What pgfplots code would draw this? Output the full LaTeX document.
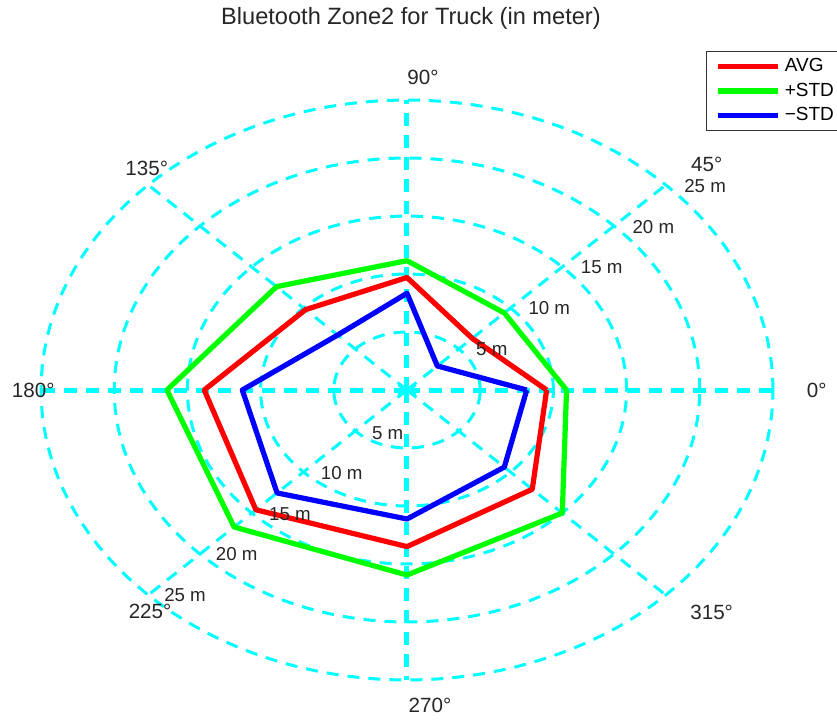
\documentclass[border=0pt]{standalone}
\usepackage{pgfplots}
\pgfplotsset{compat=1.18}
\usepackage{fontspec}
\setmainfont{Liberation Sans}
\definecolor{gcyan}{RGB}{0,255,255}
\definecolor{mred}{RGB}{255,0,0}
\definecolor{mgreen}{RGB}{0,255,0}
\definecolor{mblue}{RGB}{0,0,255}
\tikzset{
  rlab/.style={font=\fontsize{9.35}{11}\selectfont, text=black!85},
  alab/.style={font=\fontsize{10.3}{12}\selectfont, text=black!85},
}
\begin{document}
\begin{tikzpicture}
\path[use as bounding box] (-20.5pt,-19.5pt) rectangle (398pt,340pt);
\begin{axis}[
  width=366pt, height=290pt, scale only axis,
  xmin=-25, xmax=25, ymin=-25, ymax=25,
  hide axis, clip=false,
  ring/.style={gcyan, line width=1.5pt, dash pattern=on 6pt off 4.5pt, forget plot},
  spoke/.style={gcyan, line width=1.5pt, dash pattern=on 6pt off 4.5pt, forget plot, data cs=polar},
  mainspoke/.style={gcyan, line width=2.5pt, dash pattern=on 6.5pt off 4.5pt, forget plot, data cs=polar},
  legend style={at={(0.9085,1.0845)}, anchor=north west, draw=black!80, line width=0.6pt,
    font=\fontsize{9.5}{11}\selectfont, inner xsep=4.5pt, inner ysep=1.5pt, row sep=0pt,
    cells={anchor=west}},
  legend image code/.code={\draw[#1] (0pt,0pt) -- (30pt,0pt);},
]
% grid rings
\addplot[ring, domain=0:360, samples=145] ({5*cos(x)},{5*sin(x)});
\addplot[ring, domain=0:360, samples=145] ({10*cos(x)},{10*sin(x)});
\addplot[ring, domain=0:360, samples=145] ({15*cos(x)},{15*sin(x)});
\addplot[ring, domain=0:360, samples=145] ({20*cos(x)},{20*sin(x)});
\addplot[ring, domain=0:360, samples=145] ({25*cos(x)},{25*sin(x)});
% spokes
\addplot[spoke] coordinates {(45,0) (45,25)};
\addplot[spoke] coordinates {(135,0) (135,25)};
\addplot[spoke] coordinates {(225,0) (225,25)};
\addplot[spoke] coordinates {(315,0) (315,25)};
\addplot[mainspoke] coordinates {(0,0) (0,25)};
\addplot[mainspoke] coordinates {(90,0) (90,25)};
\addplot[mainspoke] coordinates {(180,0) (180,25)};
\addplot[mainspoke] coordinates {(270,0) (270,25)};
\addplot[gcyan, only marks, mark=asterisk, mark size=5pt, line width=1.5pt, forget plot] coordinates {(0,0)};
% data (angle in degrees, radius in m)
\addplot[mred, line width=2.6pt, line join=round, data cs=polar] coordinates {
 (0,9.54) (45,6.3) (90,9.7) (135,9.8) (180,13.85) (225,14.6) (270,13.5) (315,12.1) (360,9.54)};
\addlegendentry{AVG}
\addplot[mgreen, line width=2.6pt, line join=round, data cs=polar] coordinates {
 (0,10.9) (45,9.4) (90,11.15) (135,12.6) (180,16.4) (225,16.7) (270,15.95) (315,15.0) (360,10.9)};
\addlegendentry{+STD}
\addplot[mblue, line width=2.6pt, line join=round, data cs=polar] coordinates {
 (0,8.18) (45,2.93) (90,8.34) (135,6.7) (180,11.25) (225,12.55) (270,11.12) (315,9.4) (360,8.18)};
\addlegendentry{−STD}
% angle labels
\node[alab] at (axis cs:27.99,0) {0°};
\node[alab] at (axis cs:20.47,19.45) {45°};
\node[alab] at (axis cs:1.09,26.98) {90°};
\node[alab] at (axis cs:-17.78,19.11) {135°};
\node[alab] at (axis cs:-25.53,0) {180°};
\node[alab] at (axis cs:-17.55,-19.05) {225°};
\node[alab] at (axis cs:1.57,-27.16) {270°};
\node[alab] at (axis cs:20.81,-19.16) {315°};
% ring labels
\node[rlab] at (axis cs:5.79,3.51) {5 m};
\node[rlab] at (axis cs:9.72,7.09) {10 m};
\node[rlab] at (axis cs:13.30,10.63) {15 m};
\node[rlab] at (axis cs:16.83,14.08) {20 m};
\node[rlab] at (axis cs:20.36,17.6) {25 m};
\node[rlab] at (axis cs:-1.32,-3.68) {5 m};
\node[rlab] at (axis cs:-4.46,-7.13) {10 m};
\node[rlab] at (axis cs:-7.99,-10.69) {15 m};
\node[rlab] at (axis cs:-11.63,-14.14) {20 m};
\node[rlab] at (axis cs:-15.16,-17.67) {25 m};
% title
\node[font=\fontsize{11.8}{14}\selectfont, text=black!85] at (axis cs:0.27,32.07) {Bluetooth Zone2 for Truck (in meter)};
\end{axis}
\end{tikzpicture}
\end{document}
